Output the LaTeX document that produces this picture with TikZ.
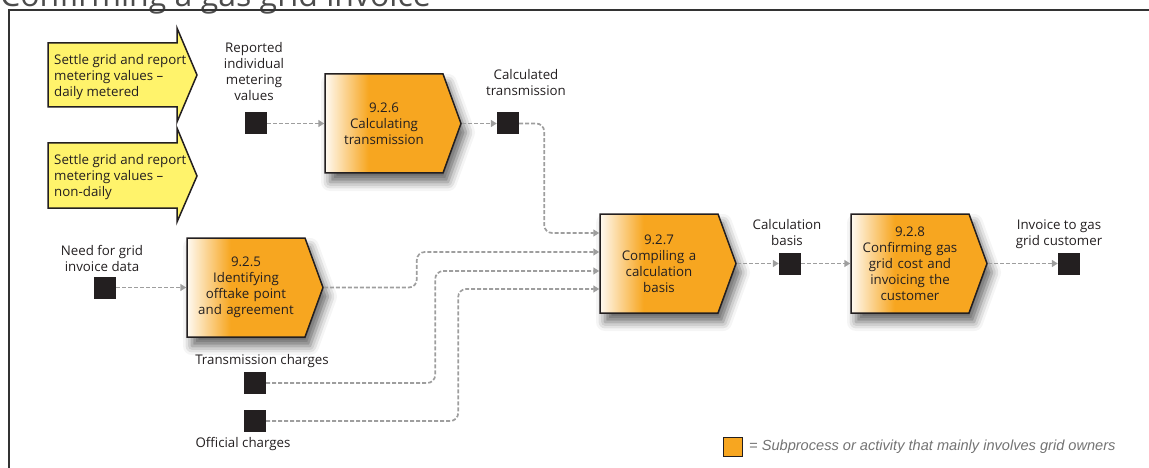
\documentclass[tikz,border=0pt]{standalone}
\usepackage{fontspec}
\setmainfont{Open Sans}
\newfontfamily\legendfont{Liberation Sans}
\usepackage{tikz}
\usetikzlibrary{arrows.meta}
\usetikzlibrary{shapes.symbols}
\usetikzlibrary{calc}
\usetikzlibrary{shadows.blur}

\definecolor{procorange}{HTML}{F7A620}
\definecolor{settleyellow}{HTML}{FFF36B}
\definecolor{docblack}{HTML}{231F20}
\definecolor{flowgray}{HTML}{9E9E9E}
\pgfdeclarehorizontalshading{procshade}{100bp}{color(0bp)=(procorange!6!white);
    color(25bp)=(procorange!6!white); color(41bp)=(procorange); color(100bp)=(procorange)}

\begin{document}
\begin{tikzpicture}[x=1pt,y=-1pt,
        every node/.style={font=\fontsize{13.3}{16}\selectfont,text=docblack},
        procbox/.style={signal,signal to=east,signal pointer angle=140,
            draw=docblack,line width=1.5pt,shading=procshade,
            text width=100pt,align=center,inner xsep=9pt,inner ysep=0pt,
            minimum height=99pt,
            blur shadow={shadow xshift=5pt,shadow yshift=-9pt,
                shadow blur radius=9pt,shadow opacity=60}},
        docsq/.style={fill=docblack,inner sep=0pt,minimum size=22pt},
        lbl/.style={align=center,inner sep=0pt},
        flow/.style={draw=flowgray,line width=1.7pt,dash pattern=on 4pt off 2pt,
            rounded corners=8pt,-{Triangle[length=6pt,width=7pt]}},
        settle/.style={fill=settleyellow,draw=docblack,line width=1.5pt}]
        \useasboundingbox (0,0) rectangle (1149,468);

        % Title and frame
        \node [anchor=base west,inner sep=0pt,font=\fontsize{32}{34}\selectfont,
            text=black!70] (title) at (0,7) {Confirming a gas grid invoice};
        \draw [line width=1.3pt,black!80] (9,480) |- (1160,10);

        % Settlement arrows
        \draw [settle] (48,43) -- (177,43) -- (177,28) -- (197,75) -- (177,122)
            -- (177,107) -- (48,107) -- cycle;
        \draw [settle] (48,143) -- (177,143) -- (177,128) -- (197,176) -- (177,222)
            -- (177,208) -- (48,208) -- cycle;
        \node [anchor=west,align=left,inner sep=0pt] (settledaily) at (54,77)
            {Settle grid and report\\metering values --\\daily metered};
        \node [anchor=west,align=left,inner sep=0pt] (settlenondaily) at (54,177)
            {Settle grid and report\\metering values --\\non-daily};

        % Subprocesses
        \node [procbox] (p926) at (384,123.5) {9.2.6\\Calculating\\transmission};
        \node [procbox] (p925) at (246,287.5) {9.2.5\\Identifying\\offtake point\\and agreement};
        \node [procbox] (p927) at (659,263.5) {9.2.7\\Compiling a\\calculation\\basis};
        \node [procbox] (p928) at (910,263.5) {9.2.8\\Confirming gas\\grid cost and\\invoicing the\\customer};

        % Information objects
        \node [docsq] (sqrm) at (256,123.5) {};
        \node [docsq] (sqct) at (508,123.5) {};
        \node [docsq] (sqni) at (105,287.5) {};
        \node [docsq] (sqtc) at (255,383) {};
        \node [docsq] (sqoc) at (255,421) {};
        \node [docsq] (sqcb) at (790,263.5) {};
        \node [docsq] (sqig) at (1069,263.5) {};

        % Labels
        \node [lbl] (lrm) at (254,72) {Reported\\individual\\metering\\values};
        \node [lbl] (lct) at (526,83) {Calculated\\transmission};
        \node [lbl] (lni) at (102,258) {Need for grid\\invoice data};
        \node [lbl] (ltc) at (262,361) {Transmission charges};
        \node [lbl] (loc) at (243,444) {Official charges};
        \node [lbl] (lcb) at (787,233) {Calculation\\basis};
        \node [lbl] (lig) at (1059,234) {Invoice to gas\\grid customer};

        % Inputs to 9.2.7
        \coordinate (in1) at ($(p927.west)+(0,-30.5)$);
        \coordinate (in2) at ($(p927.west)+(0,-11.5)$);
        \coordinate (in3) at ($(p927.west)+(0,7.5)$);
        \coordinate (in4) at ($(p927.west)+(0,25.5)$);

        % Flows
        \draw [flow] (sqrm.east) -- (p926.west);
        \draw [flow] (p926.east) -- (sqct.west);
        \draw [flow] (sqct.east) -- ++(25,0) |- (in1);
        \draw [flow] (sqni.east) -- (p925.west);
        \draw [flow] (p925.east) -- ++(93,0) |- (in2);
        \draw [flow] (sqtc.east) -- ++(169,0) |- (in3);
        \draw [flow] (sqoc.east) -- ++(192,0) |- (in4);
        \draw [flow] (p927.east) -- (sqcb.west);
        \draw [flow] (sqcb.east) -- (p928.west);
        \draw [flow] (p928.east) -- (sqig.west);

        % Legend
        \node [fill=procorange,draw=docblack,line width=1.2pt,inner sep=0pt,
            minimum size=19pt] (legsq) at (733,447) {};
        \node [anchor=west,inner sep=0pt,text=black!55,
            font=\legendfont\itshape\fontsize{14.6}{16}\selectfont] (legtxt) at (749,447)
            {= Subprocess or activity that mainly involves grid owners};
    \end{tikzpicture}
\end{document}
